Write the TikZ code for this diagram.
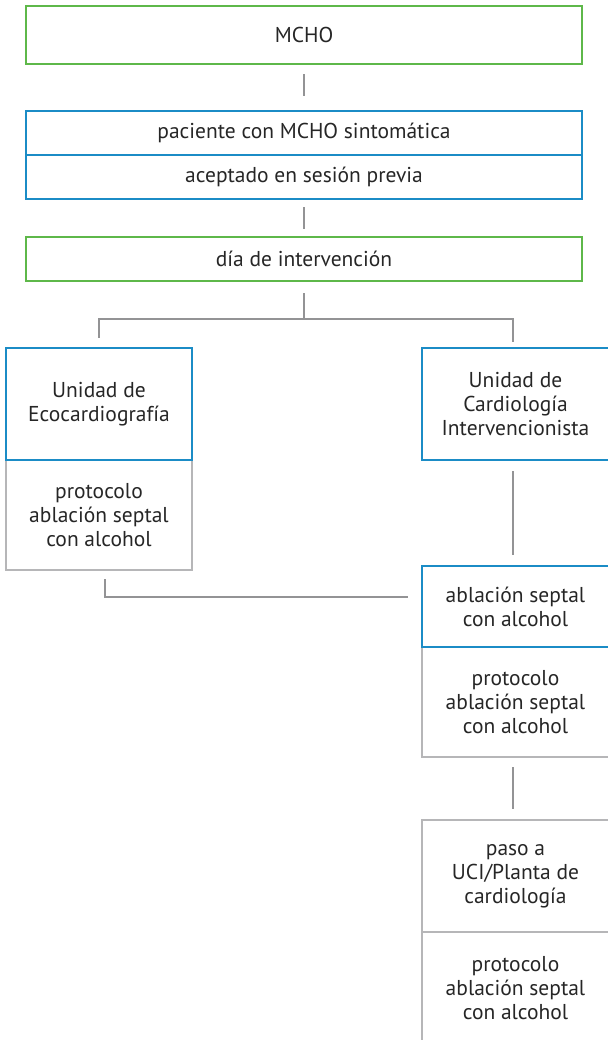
\documentclass[tikz,border=0pt]{standalone}
\usepackage{fontspec}
\setmainfont{PT Sans}
\definecolor{grn}{HTML}{5EB84A}
\definecolor{blu}{HTML}{1B8CC6}
\definecolor{gry}{HTML}{B6B6B8}
\definecolor{lnk}{HTML}{939395}
\definecolor{txt}{HTML}{262626}
\tikzset{
  box/.style={draw, line width=2.2pt, align=center, inner sep=0pt, text=txt,
    font=\fontsize{21.5}{24}\selectfont},
  gbox/.style={box, draw=grn},
  bbox/.style={box, draw=blu},
  ybox/.style={box, draw=gry},
  link/.style={draw=lnk, line width=2.2pt}
}
\begin{document}
\begin{tikzpicture}
\useasboundingbox (0pt,0pt) rectangle (607pt,-1040pt);
% top chain
\node[gbox, minimum width=556pt, minimum height=58pt] (mcho) at (304pt,-35pt) {MCHO};
\node[bbox, minimum width=556pt, minimum height=44pt] (pac) at (304pt,-133pt) {paciente con MCHO sintomática};
\node[bbox, minimum width=556pt, minimum height=44pt] (acep) at (304pt,-177pt) {aceptado en sesión previa};
\node[gbox, minimum width=556pt, minimum height=44pt] (dia) at (304pt,-259pt) {día de intervención};
% left column
\node[ybox, minimum width=186pt, minimum height=110pt] (prot1) at (99pt,-515pt) {protocolo\\ablación septal\\con alcohol};
\node[bbox, minimum width=186pt, minimum height=112pt] (eco) at (99pt,-404pt) {Unidad de\\Ecocardiografía};
% right column
\node[bbox, minimum width=187pt, minimum height=112pt] (card) at (515.5pt,-404pt) {Unidad de\\Cardiología\\Intervencionista};
\node[ybox, minimum width=187pt, minimum height=110pt] (prot2) at (515.5pt,-702pt) {protocolo\\ablación septal\\con alcohol};
\node[bbox, minimum width=187pt, minimum height=81pt] (abl) at (515.5pt,-606.5pt) {ablación septal\\con alcohol};
\node[ybox, minimum width=187pt, minimum height=112pt] (paso) at (515.5pt,-876pt) {paso a\\UCI/Planta de\\cardiología};
\node[ybox, minimum width=187pt, minimum height=112pt] (prot3) at (515.5pt,-988pt) {protocolo\\ablación septal\\con alcohol};
% connectors
\draw[link] ([yshift=-9pt]mcho.south) -- ([yshift=14pt]pac.north);
\draw[link] ([yshift=-7pt]acep.south) -- ([yshift=7pt]dia.north);
\coordinate (split) at ([yshift=-37pt]dia.south);
\draw[link] ([yshift=-11pt]dia.south) -- (split);
\draw[link] ([yshift=9pt]eco.north) |- (split) -| ([xshift=-2.5pt,yshift=5pt]card.north);
\draw[link] ([xshift=-2.5pt,yshift=-10pt]card.south) -- ([xshift=-2.5pt,yshift=10pt]abl.north);
\coordinate (lend) at (408pt,-597pt);
\draw[link] ([xshift=6pt,yshift=-8pt]prot1.south) |- (lend);
\draw[link] ([xshift=-2.5pt,yshift=-9pt]prot2.south) -- ([xshift=-2.5pt,yshift=10pt]paso.north);
\end{tikzpicture}
\end{document}
